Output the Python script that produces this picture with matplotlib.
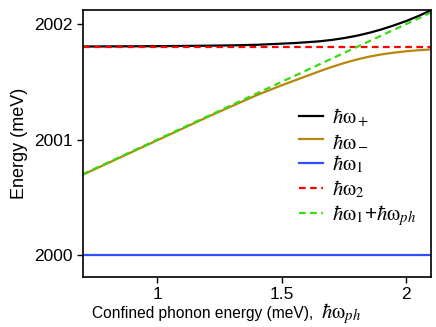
import numpy as np
import matplotlib.pyplot as plt

plt.rcParams['font.family'] = ['Liberation Sans', 'DejaVu Sans']
plt.rcParams['mathtext.fontset'] = 'stix'

# phonon energy (meV) and energies
x_ph = [0.7, 1.0, 1.2, 1.3, 1.4, 1.5, 1.55, 1.6, 1.65, 1.7, 1.75, 1.8, 1.85, 1.9, 1.95, 2.0, 2.05, 2.1]
w_plus = [2001.805, 2001.808, 2001.812, 2001.815, 2001.82, 2001.83, 2001.835, 2001.842, 2001.85,
          2001.862, 2001.878, 2001.898, 2001.923, 2001.953, 2001.988, 2002.026, 2002.07, 2002.12]
w_minus = [2000.695, 2000.994, 2001.194, 2001.29, 2001.385, 2001.47, 2001.51, 2001.55, 2001.59,
           2001.628, 2001.662, 2001.692, 2001.717, 2001.737, 2001.752, 2001.764, 2001.773, 2001.78]
x_line = [0.7, 2.1]
w1 = [2000.0, 2000.0]
w2 = [2001.8, 2001.8]
w1_ph = [2000.7, 2002.1]

fig = plt.figure(figsize=(4.36, 3.27), dpi=100)
ax = fig.add_axes([0.19, 0.153, 0.799, 0.816])

ax.plot(x_ph, w_plus, color='black', lw=1.6, label=r'$\hbar\mathrm{\omega}_+$')
ax.plot(x_ph, w_minus, color='#b8860b', lw=1.6, label=r'$\hbar\mathrm{\omega}_-$')
ax.plot(x_line, w1, color='#3050ff', lw=1.6, label=r'$\hbar\mathrm{\omega}_1$')
ax.plot(x_line, w2, color='red', lw=1.6, ls=(0, (3, 2)), label=r'$\hbar\mathrm{\omega}_2$')
ax.plot(x_line, w1_ph, color='#33dd11', lw=1.6, ls=(0, (3, 2)),
        label=r'$\hbar\mathrm{\omega}_1$+$\hbar\mathrm{\omega}_{ph}$')

ax.set_xlim(0.7, 2.1)
ax.set_ylim(1999.81, 2002.12)
ax.set_xticks([1, 1.5, 2])
ax.set_xticklabels(['1', '1.5', '2'])
ax.set_yticks([2000, 2001, 2002])
ax.set_yticklabels(['2000', '2001', '2002'])
ax.tick_params(labelsize=12.5, length=4, width=1)
ax.tick_params(axis='x', pad=3)
for s in ax.spines.values():
    s.set_linewidth(1.2)

ax.set_ylabel('Energy (meV)', fontsize=13, labelpad=4)
# x label: plain text plus a larger hbar omega_ph
fig.text(92 / 436, 1 - 318 / 327, 'Confined phonon energy (meV),',
         fontsize=11.2, ha='left', va='baseline')
fig.text(321 / 436, 1 - 318 / 327, r'$\hbar\mathrm{\omega}_{ph}$',
         fontsize=15, ha='left', va='baseline')

ax.legend(loc='lower right', bbox_to_anchor=(1.0, 0.13), frameon=False, fontsize=15,
          handlelength=1.15, handletextpad=0.45, labelspacing=0.14, borderpad=0.2)

fig.savefig('out.png', dpi=100)
